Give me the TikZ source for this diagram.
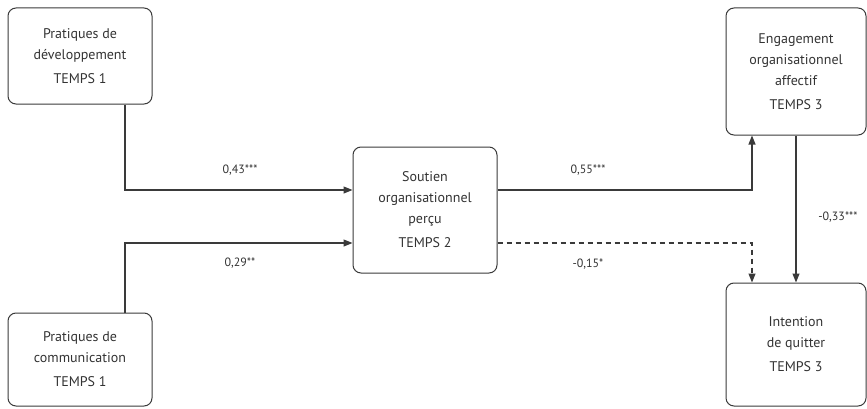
\documentclass[tikz,border=0pt]{standalone}
\usepackage{fontspec}
\setmainfont{PT Sans}
\usetikzlibrary{positioning,calc,arrows.meta}
\definecolor{linegray}{HTML}{3A3A3A}
\tikzset{
  varbox/.style={draw=linegray, line width=1pt, rounded corners=8pt, align=center,
    inner sep=2pt, font=\fontsize{14}{21}\selectfont, text=black!80},
  arr/.style={draw=linegray, line width=1.1pt, -{Triangle[length=9pt,width=7pt]}},
  coef/.style={font=\fontsize{12}{14}\selectfont, text=black!80}
}
\begin{document}
\begin{tikzpicture}[x=1pt,y=1pt]
    \useasboundingbox (0,0) rectangle (867,408);
    % Variables
    \node[varbox, minimum width=144pt, minimum height=96pt] (dev) at (80,352)
        {Pratiques de\\développement\\[3pt]TEMPS 1};
    \node[varbox, minimum width=144pt, minimum height=93pt] (com) at (80,48.5)
        {Pratiques de\\communication\\[3pt]TEMPS 1};
    \node[varbox, minimum width=144pt, minimum height=126pt] (sout) at (425,198)
        {Soutien\\organisationnel\\perçu\\[3pt]TEMPS 2};
    \node[varbox, minimum width=140pt, minimum height=127pt] (eng) at (796,336.5)
        {Engagement\\organisationnel\\affectif\\[3pt]TEMPS 3};
    \node[varbox, minimum width=140pt, minimum height=123pt] (quit) at (796,63.5)
        {Intention\\de quitter\\[3pt]TEMPS 3};

    % Paths
    \coordinate (inA) at ($(sout.west)+(0,20)$);
    \coordinate (inB) at ($(sout.west)+(0,-33)$);
    \coordinate (outA) at ($(sout.east)+(0,20)$);
    \coordinate (outB) at ($(sout.east)+(0,-33)$);
    \draw[arr] ($(dev.south)+(45,0)$) |- (inA);
    \draw[arr] ($(com.north)+(45,0)$) |- (inB);
    \draw[arr] (outA) -| ($(eng.south)+(-44,0)$);
    \draw[arr, dashed, dash pattern=on 5pt off 4pt] (outB) -| ($(quit.north)+(-44,0)$);
    \draw[arr] (eng.south) -- (quit.north);

    % Coefficients
    \node[coef] (c1) at (240,238) {0,43***};
    \node[coef] (c2) at (240,145) {0,29**};
    \node[coef] (c3) at (588,238) {0,55***};
    \node[coef] (c4) at (588,144) {-0,15*};
    \node[coef] (c5) at (838,191) {-0,33***};
\end{tikzpicture}
\end{document}
